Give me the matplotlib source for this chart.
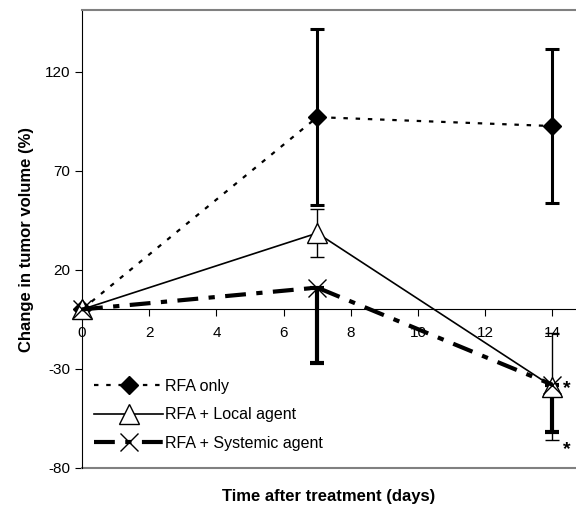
import numpy as np
import matplotlib.pyplot as plt
from matplotlib.lines import Line2D

days = [0, 7, 14]

rfa_only = [0, 97, 92.5]
rfa_only_err = [0, 44.5, 39]

local = [0, 38.5, -39]
local_err = [0, 12, 27]

systemic = [0, 11, -38]
systemic_err_low = [0, 38, 24]

xticks = [0, 2, 4, 6, 8, 10, 12, 14]
yticks = [-80, -30, 20, 70, 120]

plt.rcParams['font.family'] = ['Liberation Sans', 'DejaVu Sans']
plt.rcParams['axes.unicode_minus'] = False

fig = plt.figure(figsize=(5.76, 5.05), dpi=100)
ax = fig.add_axes([0.1424, 0.0733, 0.8576, 0.9067])

# error bars first, lines on top
ax.errorbar(days[1:], rfa_only[1:], yerr=rfa_only_err[1:], fmt='none',
            ecolor='black', elinewidth=2.2, capsize=4.7, capthick=2.2, zorder=2)
ax.errorbar(days[1:], local[1:], yerr=local_err[1:], fmt='none',
            ecolor='black', elinewidth=1, capsize=4.7, capthick=1, zorder=2)
ax.errorbar(days[1:], systemic[1:],
            yerr=[systemic_err_low[1:], [0, 0]], fmt='none',
            ecolor='black', elinewidth=3, capsize=4.7, capthick=3, zorder=2)

ax.plot(days, rfa_only, color='black', lw=1.6, linestyle=(0, (2, 3.5)),
        marker='D', markersize=9, markerfacecolor='black',
        markeredgecolor='black', label='RFA only', zorder=3, clip_on=False)
ax.plot(days, local, color='black', lw=1.2, linestyle='-',
        marker='^', markersize=14, markerfacecolor='white',
        markeredgecolor='black', markeredgewidth=1,
        label='RFA + Local agent', zorder=4, clip_on=False)
ax.plot(days, systemic, color='black', lw=3, linestyle=(0, (5, 2.5, 1.5, 2.5)),
        marker='x', markersize=13, markeredgewidth=1,
        label='RFA + Systemic agent', zorder=5, clip_on=False)

ax.text(14.3, -40, '*', fontsize=14, fontweight='bold', ha='left', va='center')
ax.text(14.3, -70.5, '*', fontsize=14, fontweight='bold', ha='left', va='center')

ax.set_xlim(0, 14.7)
ax.set_ylim(-80, 151)
ax.set_xticks(xticks)
ax.set_yticks(yticks)

ax.spines['bottom'].set_position(('data', 0))
ax.spines['right'].set_visible(False)
ax.spines['top'].set_color('#808080')
ax.spines['top'].set_linewidth(1.5)
ax.add_line(Line2D([0, 1], [0, 0], transform=ax.transAxes,
                   color='#808080', lw=1.5, clip_on=False))

ax.tick_params(axis='both', direction='out', length=5, labelsize=11)
ax.tick_params(axis='x', pad=7)

ax.set_ylabel('Change in tumor volume (%)', fontsize=12, fontweight='bold',
              labelpad=8)
ax.set_xlabel('Time after treatment (days)', fontsize=12, fontweight='bold')
ax.xaxis.set_label_coords(0.5, -0.046)

ax.legend(loc='upper left', bbox_to_anchor=(0.025, 0.195), frameon=False,
          borderaxespad=0, borderpad=0, fontsize=11.5, handlelength=4.3,
          handletextpad=0.1, labelspacing=0.85)

fig.savefig('out.png', dpi=100)
